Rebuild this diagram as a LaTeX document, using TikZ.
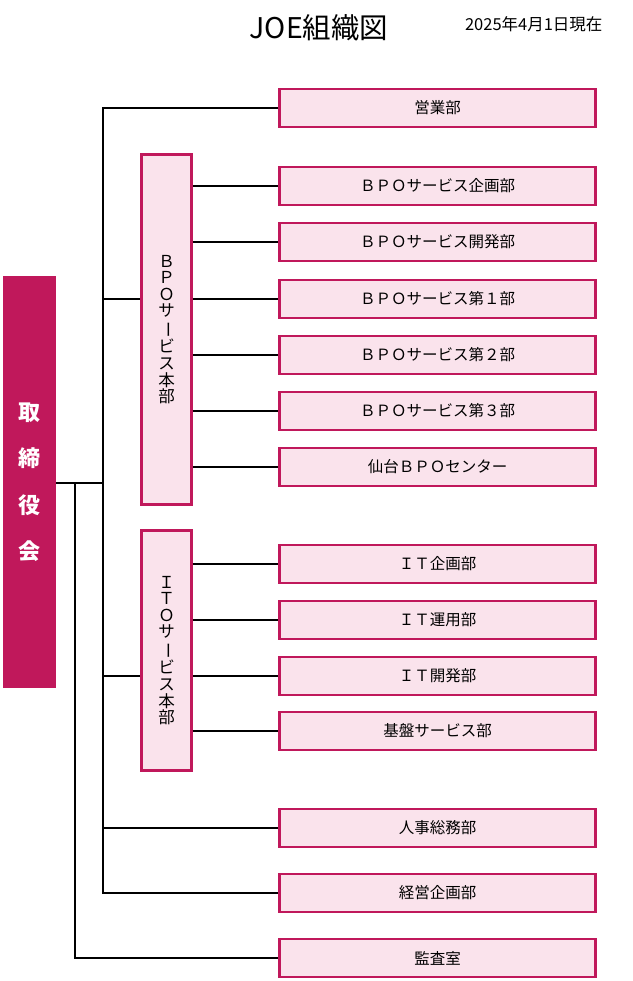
\documentclass[tikz,border=0pt]{standalone}
\usepackage{fontspec}
\setmainfont{Noto Sans CJK JP}
\usetikzlibrary{positioning}
\definecolor{joered}{HTML}{C0185B}
\definecolor{joepink}{HTML}{FAE3EC}
\newcommand{\tate}{\rotatebox[origin=c]{-90}{ー}}

\begin{document}
\begin{tikzpicture}[x=1pt,y=-1pt,
  dept/.style={draw=joered,fill=joepink,line width=2.8pt,minimum width=316pt,
    minimum height=38pt,inner sep=0pt,font=\fontsize{15.5}{18}\selectfont},
  hq/.style={draw=joered,fill=joepink,line width=2.8pt,minimum width=50pt,
    inner sep=0pt,align=center,font=\fontsize{16.5}{16.6}\selectfont},
  link/.style={line width=1.6pt,black}]
\useasboundingbox (0,0) rectangle (632,981);
\node (title) at (319,28) {\fontsize{28.5}{30}\selectfont JOE組織図};
\node[anchor=east] (date) at (606,24) {\fontsize{16.5}{18}\selectfont 2025年4月1日現在};
% board
\node[fill=joered,minimum width=53pt,minimum height=412pt,inner sep=0pt,text=white,
  align=center,font=\bfseries\fontsize{22}{46.5}\selectfont] (board) at (29.5,482)
  {取\\締\\役\\会};
% head offices
\node[hq,minimum height=350pt] (bpo) at (166.5,329.5)
  {Ｂ\\Ｐ\\Ｏ\\サ\\\tate\\ビ\\ス\\本\\部};
\node[hq,minimum height=240pt] (it) at (166.5,650.5)
  {Ｉ\\Ｔ\\Ｏ\\サ\\\tate\\ビ\\ス\\本\\部};
% departments
\foreach \n/\y/\t in {eigyo/108/営業部, b1/186/ＢＰＯサービス企画部,
    b2/242/ＢＰＯサービス開発部, b3/299/ＢＰＯサービス第１部,
    b4/355/ＢＰＯサービス第２部, b5/411/ＢＰＯサービス第３部,
    b6/467/仙台ＢＰＯセンター, i1/564/ＩＴ企画部, i2/620/ＩＴ運用部,
    i3/676/ＩＴ開発部, i4/731/基盤サービス部, jinji/828/人事総務部,
    keiei/893/経営企画部, kansa/958/監査室}
  \node[dept] (\n) at (437.5,\y) {\t};
% lines
\coordinate (jn) at (75,483);
\coordinate (sp) at (103,483);
\draw[link] (board.east |- jn) -- (sp);
\draw[link] (eigyo.west) -| (sp) |- (keiei.west);
\draw[link] (sp |- b3.west) -- (bpo.west |- b3.west);
\draw[link] (sp |- i3.west) -- (it.west |- i3.west);
\draw[link] (sp |- jinji.west) -- (jinji.west);
\draw[link] (jn) |- (kansa.west);
\foreach \n in {b1,b2,b3,b4,b5,b6}
  \draw[link] (bpo.east |- \n.west) -- (\n.west);
\foreach \n in {i1,i2,i3,i4}
  \draw[link] (it.east |- \n.west) -- (\n.west);
\end{tikzpicture}
\end{document}
